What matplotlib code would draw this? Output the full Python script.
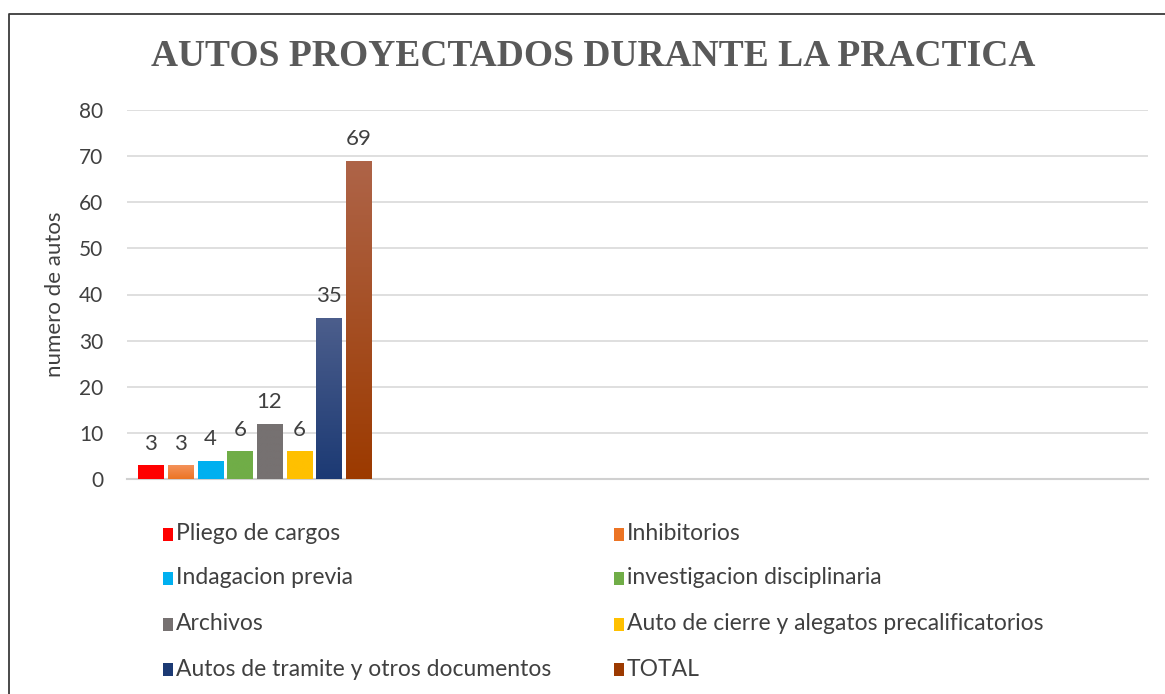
import numpy as np
import matplotlib
matplotlib.use("Agg")
import matplotlib.pyplot as plt
from matplotlib.patches import Rectangle
from matplotlib.lines import Line2D

CATEGORIES = [
    "Pliego de cargos",
    "Inhibitorios",
    "Indagacion previa",
    "investigacion disciplinaria",
    "Archivos",
    "Auto de cierre y alegatos precalificatorios",
    "Autos de tramite y otros documentos",
    "TOTAL",
]
VALUES = [3, 3, 4, 6, 12, 6, 35, 69]
# (top colour, bottom colour) for the light vertical gradient
COLORS = [
    ("#ff0000", "#ff0000"),
    ("#f4925a", "#ec7424"),
    ("#00b0f0", "#00b0f0"),
    ("#70ad47", "#70ad47"),
    ("#767171", "#767171"),
    ("#ffc000", "#ffc000"),
    ("#4c5e8c", "#1c3a74"),
    ("#ae6448", "#9c3a00"),
]
YTICKS = [0, 10, 20, 30, 40, 50, 60, 70, 80]

TEXT = "#404040"
plt.rcParams["font.family"] = ["Lato", "DejaVu Sans"]

fig = plt.figure(figsize=(11.65, 6.94), dpi=100)
ax = fig.add_axes([127 / 1165, 1 - 479 / 694, (1148 - 127) / 1165, (479 - 110) / 694])

n_groups = 4
step = 0.1165
width = 0.098
offsets = (np.arange(len(VALUES)) - (len(VALUES) - 1) / 2) * step

for off, val, (top, bot) in zip(offsets, VALUES, COLORS):
    bar = ax.bar(off, val, width=width, color=bot, zorder=3)[0]
    c1 = np.array(matplotlib.colors.to_rgb(top))
    c2 = np.array(matplotlib.colors.to_rgb(bot))
    t = np.linspace(0, 1, 64)[:, None]
    grad = (c1 * (1 - t) + c2 * t)[:, None, :]
    im = ax.imshow(grad, extent=(off - width / 2, off + width / 2, 0, val),
                   aspect="auto", zorder=3.5, interpolation="bilinear")
    im.set_clip_path(bar)
    ax.text(off, val + 2.5, str(val), ha="center", va="bottom",
            fontsize=16, color=TEXT, zorder=4)

ax.set_xlim(-0.5, n_groups - 0.5)
ax.set_ylim(0, 80)
ax.set_yticks(YTICKS)
ax.set_xticks([])
ax.tick_params(axis="y", length=0, labelsize=15, labelcolor=TEXT, pad=17)
ax.yaxis.grid(True, color="#d9d9d9", linewidth=1.2, zorder=0)
ax.set_axisbelow(True)
for s in ["top", "right", "left"]:
    ax.spines[s].set_visible(False)
ax.spines["bottom"].set_color("#d0d0d0")
ax.spines["bottom"].set_linewidth(1.5)
ax.set_ylabel("numero de autos", fontsize=16, color=TEXT, labelpad=10)

fig.text(593 / 1165, 1 - 56 / 694, "AUTOS PROYECTADOS DURANTE LA PRACTICA",
         ha="center", va="center", fontsize=27, fontweight="bold",
         color="#595959", family="Liberation Serif")

# legend, two columns laid out row by row
col_x = [163, 614]
row_y = [534, 578, 624, 669]
for i, (label, (top, bot)) in enumerate(zip(CATEGORIES, COLORS)):
    x = col_x[i % 2]
    y = row_y[i // 2]
    fig.patches.append(Rectangle((x / 1165, 1 - (y + 7) / 694), 10 / 1165, 13 / 694,
                                 transform=fig.transFigure, facecolor=bot,
                                 edgecolor="none"))
    fig.text((x + 13) / 1165, 1 - y / 694, label, ha="left", va="center",
             fontsize=16.5, color=TEXT)

# chart border
fig.add_artist(Line2D([9 / 1165, 9 / 1165, 1.0], [0, 1 - 14 / 694, 1 - 14 / 694],
                      transform=fig.transFigure, color="#3a3a3a", linewidth=1.3))

fig.savefig("out.png", dpi=100)
